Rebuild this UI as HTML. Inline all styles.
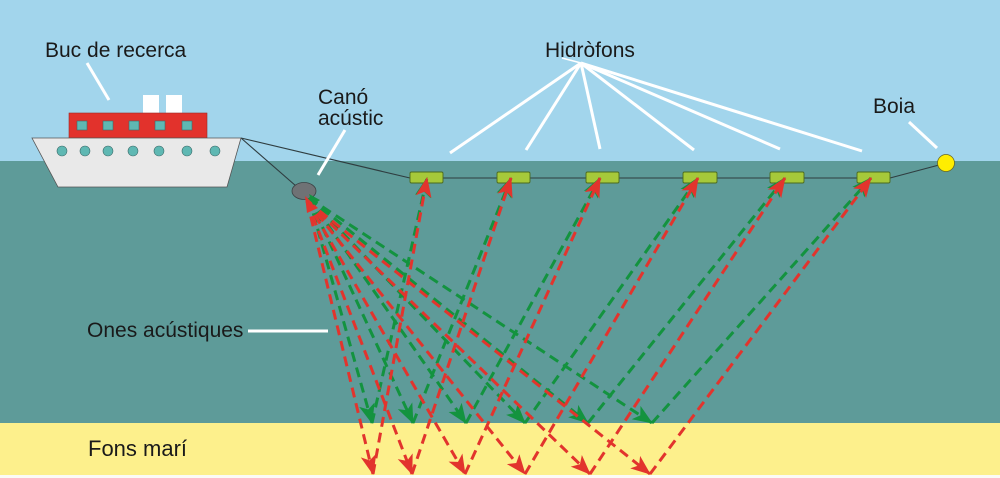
<!DOCTYPE html>
<html><head><meta charset="utf-8"><style>
html,body{margin:0;padding:0;background:#fff;}
svg{display:block;}
text{font-family:"Liberation Sans",Arial,sans-serif;fill:#1a1a1a;font-size:21px;}
</style></head><body>
<svg width="1000" height="478" viewBox="0 0 1000 478" xmlns="http://www.w3.org/2000/svg">
<defs>
<marker id="ar" markerUnits="userSpaceOnUse" markerWidth="22" markerHeight="18" refX="19" refY="8" orient="auto">
<path d="M0,0 L20,8 L0,16 L5,8 z" fill="#e2342d"/></marker>
<marker id="ag" markerUnits="userSpaceOnUse" markerWidth="22" markerHeight="18" refX="19" refY="8" orient="auto">
<path d="M0,0 L20,8 L0,16 L5,8 z" fill="#13933f"/></marker>
</defs>
<rect x="0" y="0" width="1000" height="161" fill="#a2d5ec"/>
<rect x="0" y="161" width="1000" height="262" fill="#5e9b99"/>
<rect x="0" y="423" width="1000" height="52" fill="#fdf08c"/>
<rect x="0" y="475" width="1000" height="3" fill="#fbfbf6"/>

<!-- cables -->
<g stroke="#2f3d40" stroke-width="1.1" fill="none">
<line x1="241" y1="138" x2="296" y2="186"/>
<line x1="241" y1="138" x2="410" y2="178"/>
<line x1="410" y1="178" x2="890" y2="178"/>
<line x1="890" y1="178" x2="939" y2="165"/>
</g>

<!-- ship -->
<rect x="143" y="95" width="16" height="19" fill="#ffffff"/>
<rect x="166" y="95" width="16" height="19" fill="#ffffff"/>
<rect x="69" y="113" width="138" height="25" fill="#e2322c" stroke="#9b2a26" stroke-width="0.6"/>
<g fill="#5fb8b3" stroke="#3d6b6a" stroke-width="0.6">
<rect x="77" y="121" width="10" height="9"/>
<rect x="103" y="121" width="10" height="9"/>
<rect x="129" y="121" width="10" height="9"/>
<rect x="155" y="121" width="10" height="9"/>
<rect x="182" y="121" width="10" height="9"/>
</g>
<polygon points="32,138 241,138 227,187 58,187" fill="#e9e9e9" stroke="#555" stroke-width="0.8"/>
<g fill="#5fb8b3" stroke="#3d6b6a" stroke-width="0.6">
<circle cx="62" cy="151" r="5"/><circle cx="85" cy="151" r="5"/><circle cx="108" cy="151" r="5"/>
<circle cx="133" cy="151" r="5"/><circle cx="159" cy="151" r="5"/><circle cx="187" cy="151" r="5"/>
<circle cx="215" cy="151" r="5"/>
</g>

<!-- cannon -->
<ellipse cx="304" cy="191" rx="12" ry="8.5" fill="#6f7275" stroke="#3c4245" stroke-width="0.8"/>

<!-- hydrophones -->
<g fill="#a6c93a" stroke="#4b6a1f" stroke-width="0.9">
<rect x="410" y="172" width="33" height="11" rx="1.5"/>
<rect x="497" y="172" width="33" height="11" rx="1.5"/>
<rect x="586" y="172" width="33" height="11" rx="1.5"/>
<rect x="683" y="172" width="34" height="11" rx="1.5"/>
<rect x="770" y="172" width="34" height="11" rx="1.5"/>
<rect x="857" y="172" width="33" height="11" rx="1.5"/>
</g>
<circle cx="946" cy="163" r="8.5" fill="#ffed00" stroke="#6b6a20" stroke-width="0.8"/>

<!-- green rays -->
<g stroke="#13933f" stroke-width="3" fill="none" stroke-dasharray="10,6" marker-end="url(#ag)">
<line x1="309" y1="198" x2="372" y2="423"/>
<line x1="309" y1="198" x2="413" y2="423"/>
<line x1="309" y1="198" x2="466" y2="423"/>
<line x1="309" y1="198" x2="525" y2="423"/>
<line x1="309" y1="198" x2="588" y2="423"/>
<line x1="309" y1="198" x2="652" y2="423"/>
<line x1="372" y1="423" x2="427" y2="178"/>
<line x1="413" y1="423" x2="511" y2="178"/>
<line x1="466" y1="423" x2="600" y2="178"/>
<line x1="525" y1="423" x2="698" y2="178"/>
<line x1="588" y1="423" x2="785" y2="178"/>
<line x1="652" y1="423" x2="871" y2="178"/>
</g>
<!-- red rays -->
<g stroke="#e2342d" stroke-width="3" fill="none" stroke-dasharray="10,6" marker-end="url(#ar)">
<line x1="307" y1="201" x2="373" y2="474"/>
<line x1="307" y1="201" x2="412" y2="474"/>
<line x1="307" y1="201" x2="465" y2="474"/>
<line x1="307" y1="201" x2="525" y2="474"/>
<line x1="307" y1="201" x2="590" y2="474"/>
<line x1="307" y1="201" x2="650" y2="474"/>
<line x1="373" y1="474" x2="427" y2="178"/>
<line x1="412" y1="474" x2="511" y2="178"/>
<line x1="465" y1="474" x2="600" y2="178"/>
<line x1="525" y1="474" x2="698" y2="178"/>
<line x1="590" y1="474" x2="785" y2="178"/>
<line x1="650" y1="474" x2="871" y2="178"/>
</g>
<!-- small arrowheads at cannon -->
<polygon points="305,196 318,208 307,213" fill="#e2342d"/>
<polygon points="309,194 320,200 313,205" fill="#13933f"/>

<!-- white label lines -->
<g stroke="#ffffff" stroke-width="3" fill="none">
<line x1="87" y1="63" x2="109" y2="100"/>
<line x1="345" y1="130" x2="318" y2="175"/>
<line x1="581" y1="63" x2="450" y2="153"/>
<line x1="581" y1="63" x2="526" y2="150"/>
<line x1="581" y1="63" x2="600" y2="149"/>
<line x1="581" y1="63" x2="694" y2="150"/>
<line x1="581" y1="63" x2="780" y2="149"/>
<line x1="581" y1="63" x2="862" y2="151"/>
<line x1="562" y1="58" x2="581" y2="63" stroke-width="1.5"/>
<line x1="909" y1="122" x2="937" y2="148"/>
<line x1="248" y1="331" x2="328" y2="331"/>
</g>

<!-- labels -->
<text x="45" y="57">Buc de recerca</text>
<text x="545" y="57">Hidròfons</text>
<text x="318" y="104">Canó</text>
<text x="318" y="125">acústic</text>
<text x="873" y="113">Boia</text>
<text x="87" y="337">Ones acústiques</text>
<text x="88" y="456" style="font-size:22px">Fons marí</text>
</svg>
</body></html>
